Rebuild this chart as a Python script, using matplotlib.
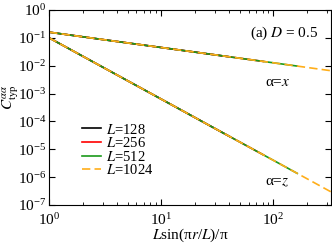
import numpy as np
import matplotlib
matplotlib.use("Agg")
import matplotlib.pyplot as plt

plt.rcParams['font.family'] = ['Liberation Serif', 'DejaVu Serif']
plt.rcParams['mathtext.fontset'] = 'stix'
plt.rcParams['axes.unicode_minus'] = False

# values (log-log, nearly straight)
x_pts = [1, 3, 10, 30, 100, 326]
cx = [0.16, 0.087, 0.045, 0.0246, 0.0127, 0.0066]
cz = [0.10, 8.9e-3, 6.3e-4, 5.6e-5, 4.0e-6, 2.95e-7]

sizes = [128, 256, 512, 1024]
colors = ['black', 'red', '#1a9a1a', '#ffae1a']
styles = ['-', '-', '-', (0, (5, 2.5))]


def cut(L, xs, ys):
    xmax = L / np.pi
    xs = np.array(xs, float)
    ys = np.array(ys, float)
    keep = xs < xmax
    # end point on the same log-log segment
    i = min(np.searchsorted(xs, xmax), len(xs) - 1)
    t = (np.log(xmax) - np.log(xs[i - 1])) / (np.log(xs[i]) - np.log(xs[i - 1]))
    yend = np.exp(np.log(ys[i - 1]) + t * (np.log(ys[i]) - np.log(ys[i - 1])))
    return np.append(xs[keep], xmax), np.append(ys[keep], yend)


fig = plt.figure(figsize=(3.32, 2.44), dpi=100)
ax = fig.add_axes([0.148, 0.160, 0.849, 0.799])

for L, c, ls in zip(sizes, colors, styles):
    x1, y1 = cut(L, x_pts, cx)
    x2, y2 = cut(L, x_pts, cz)
    ax.plot(x1, y1, color=c, ls=ls, lw=1.2, label='$L$=%d' % L)
    ax.plot(x2, y2, color=c, ls=ls, lw=1.2)

ax.set_xscale('log')
ax.set_yscale('log')
ax.set_xlim(1, 1024 / np.pi)
ax.set_ylim(1e-7, 1)
ax.set_yticks([10.0**k for k in range(-7, 1)])
ax.tick_params(which='both', direction='in', top=True, right=True, labelsize=11)
ax.tick_params(axis='y', pad=2)
ax.tick_params(axis='x', pad=5)
ax.tick_params(which='major', length=4)
ax.tick_params(which='minor', length=2)

ax.set_xlabel('$L$sin(π$r$/$L$)/π', fontsize=11, labelpad=-1)
ax.set_ylabel(r'$C^{\alpha\alpha}_{\rm typ}$', fontsize=11)
ax.yaxis.set_label_coords(-0.10, 0.554)

ax.text(0.954, 0.88, '(a) $D$ = 0.5', transform=ax.transAxes, ha='right', va='center', fontsize=11)
ax.text(0.81, 0.626, 'α=$x$', transform=ax.transAxes, ha='center', va='center', fontsize=11)
ax.text(0.81, 0.113, 'α=$z$', transform=ax.transAxes, ha='center', va='center', fontsize=11)

ax.legend(loc='lower left', bbox_to_anchor=(0.092, 0.105), frameon=False, fontsize=10.5,
          handlelength=1.3, handletextpad=0.3, labelspacing=-0.03, borderpad=0)

fig.savefig('out.png', dpi=100)
